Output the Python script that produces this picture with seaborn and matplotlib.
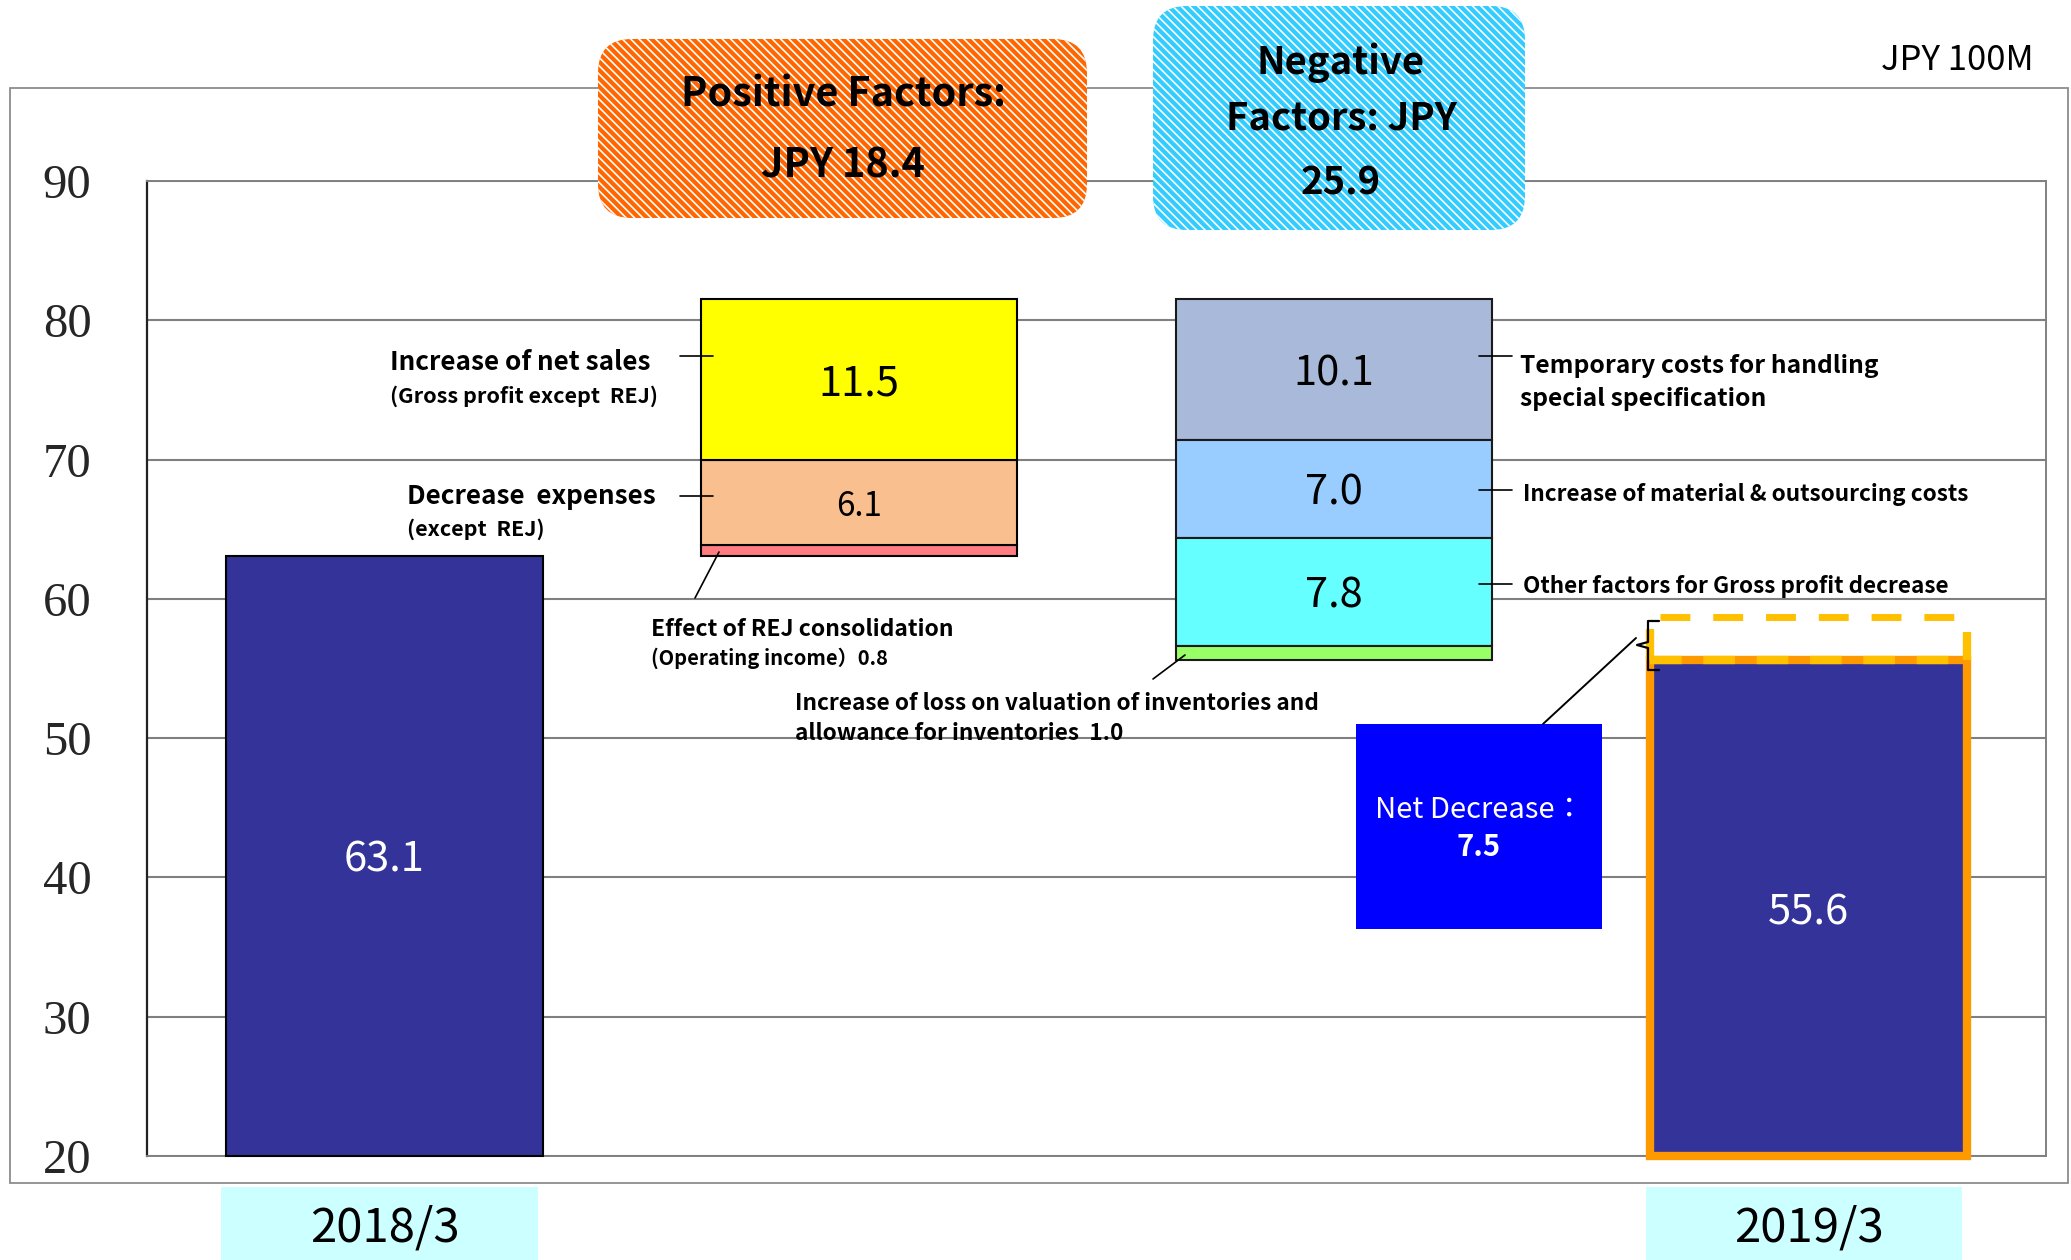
import numpy as np
import pandas as pd
import matplotlib
matplotlib.use("Agg")
import matplotlib.pyplot as plt
from matplotlib.patches import FancyBboxPatch, Rectangle
from matplotlib.lines import Line2D
from matplotlib.transforms import Affine2D
import seaborn as sns

# ---- gross profit bridge, JPY 100M ----
categories = ["2018/3", "Positive", "Negative", "2019/3"]
period_labels = ["2018/3", "", "", "2019/3"]
start_total = 63.1
end_total = 55.6
# REJ consolidation, decrease of expenses, increase of net sales
positive_values = [0.8, 6.1, 11.5]
# special specification, material & outsourcing, other factors, inventories
negative_values = [10.1, 7.0, 7.8, 1.0]
positive_total = 18.4
negative_total = 25.9
net_decrease = 7.5
y_ticks = [20, 30, 40, 50, 60, 70, 80, 90]

# ---- styling ----
NAVY = "#333399"
positive_colors = ["#FF7C80", "#F9BF8F", "#FFFF00"]
negative_colors = ["#A9B9D9", "#99CCFF", "#66FFFF", "#99FF66"]
positive_label_sizes = [None, 24, 30]
negative_label_sizes = [30, 30, 30, None]
SANS = ["Noto Sans CJK JP", "DejaVu Sans"]
SERIF = ["Liberation Serif", "DejaVu Serif"]
BAR_W = 0.667

sns.set_theme(style="white")
plt.rcParams["font.family"] = SANS
plt.rcParams["hatch.linewidth"] = 1.2

W, H = 2071, 1260
fig = plt.figure(figsize=(W / 100, H / 100), dpi=100, facecolor="white")
ax = fig.add_axes([147 / W, (H - 1156) / H, (2046 - 147) / W, (1156 - 181) / H])

# image-pixel transform (origin top-left) for the slide decorations
PX = Affine2D().scale(1, -1).translate(0, H).scale(1 / 100) + fig.dpi_scale_trans

# ---- build waterfall segments ----
floor = y_ticks[0]
rows = [dict(cat=categories[0], bottom=floor, top=start_total, color=NAVY,
             edge="black", lw=1.5, label=f"{start_total:.1f}", tcolor="white", tsize=30)]
level = start_total
for v, c, sz in zip(positive_values, positive_colors, positive_label_sizes):
    rows.append(dict(cat=categories[1], bottom=level, top=level + v, color=c,
                     edge="black", lw=1.5, label=None if sz is None else f"{v:.1f}",
                     tcolor="black", tsize=sz))
    level += v
for v, c, sz in zip(negative_values, negative_colors, negative_label_sizes):
    rows.append(dict(cat=categories[2], bottom=level - v, top=level, color=c,
                     edge="#1A1A1A", lw=1.5, label=None if sz is None else f"{v:.1f}",
                     tcolor="black", tsize=sz))
    level -= v
rows.append(dict(cat=categories[3], bottom=floor, top=end_total, color=NAVY,
                 edge="#FF9900", lw=6, label=f"{end_total:.1f}", tcolor="white", tsize=30))
segments = pd.DataFrame(rows)

for s in segments.itertuples():
    sns.barplot(x=[s.cat], y=[s.top - s.bottom], bottom=s.bottom, order=categories,
                color=s.color, saturation=1, edgecolor=s.edge, linewidth=s.lw,
                width=BAR_W, errorbar=None, ax=ax, zorder=3, clip_on=False)
    if isinstance(s.label, str):
        ax.text(categories.index(s.cat), (s.bottom + s.top) / 2, s.label,
                ha="center", va="center_baseline", color=s.tcolor, fontsize=s.tsize,
                zorder=6)

# ---- axes ----
ax.set_xlim(-0.5, len(categories) - 0.5)
ax.set_ylim(y_ticks[0], y_ticks[-1])
ax.set_xticks([])
ax.set_xlabel("")
ax.set_ylabel("")
ax.set_yticks(y_ticks)
ax.set_yticklabels([str(t) for t in y_ticks], family=SERIF, fontsize=35)
ax.tick_params(axis="y", length=0, pad=40)
ax.yaxis.grid(True, color="#7F7F7F", lw=1.5)
ax.xaxis.grid(False)
ax.set_axisbelow(True)
for name, sp in ax.spines.items():
    sp.set_visible(True)
    sp.set_color("#808080")
    sp.set_linewidth(1.4)
ax.spines["left"].set_color("#222222")
ax.spines["left"].set_linewidth(1.6)

# period labels under the end bars
xa = ax.get_xaxis_transform()
for i, lab in enumerate(period_labels):
    if not lab:
        continue
    ax.add_patch(Rectangle((i - BAR_W / 2 - 0.01, -0.1067), BAR_W, 0.075,
                           transform=xa, facecolor="#CCFFFF", edgecolor="none",
                           clip_on=False, zorder=1))
    ax.text(i, -0.0738, lab, transform=xa, ha="center", va="center",
            fontsize=34, color="black", clip_on=False)

# ghost outline of the previous level on the 2019/3 bar
x0, x1 = 3 - BAR_W / 2, 3 + BAR_W / 2
ghost_top = end_total + 3.1
ax.plot([x0, x1], [end_total, end_total], color="#FFC000", lw=6,
        dashes=(3.8, 2.6), clip_on=False, zorder=5)
ax.plot([x0 + 0.02, x1 - 0.01], [ghost_top, ghost_top], color="#FFC000", lw=5,
        dashes=(4.3, 3.3), clip_on=False, zorder=5)
for xe, ext in [(x0, 2.2), (x1, 2.0)]:
    ax.plot([xe, xe], [end_total, end_total + ext], color="#FFC000", lw=6,
            solid_capstyle="butt", clip_on=False, zorder=5)

# ---- slide decorations (pixel coordinates) ----
def ptext(x, y, s, **kw):
    kw.setdefault("va", "center")
    kw.setdefault("color", "black")
    return fig.text(x, y, s, transform=PX, **kw)


def pline(xs, ys, **kw):
    kw.setdefault("color", "black")
    kw.setdefault("lw", 1.2)
    fig.add_artist(Line2D(xs, ys, transform=PX, **kw))


# outer slide frame
fig.add_artist(Rectangle((10, 88), 2058, 1095, transform=PX, facecolor="none",
                         edgecolor="#8C8C8C", lw=1.3, zorder=0.5))

# summary boxes
fig.add_artist(FancyBboxPatch((598, 39), 489, 179, transform=PX,
                              boxstyle="round,pad=0,rounding_size=34",
                              facecolor="#FF6600", edgecolor="white", lw=0,
                              hatch="\\\\\\\\", zorder=2))
fig.add_artist(FancyBboxPatch((1153, 6), 372, 224, transform=PX,
                              boxstyle="round,pad=0,rounding_size=34",
                              facecolor="#33CCFF", edgecolor="white", lw=0,
                              hatch="\\\\\\\\", zorder=2))
ptext(843, 95, "Positive Factors:", ha="center", fontsize=28.5, weight="bold")
ptext(843, 166, f"JPY {positive_total:.1f}", ha="center", fontsize=28.5, weight="bold")
ptext(1341, 63, "Negative", ha="center", fontsize=27.5, weight="bold")
ptext(1341, 118, "Factors: JPY", ha="center", fontsize=27.5, weight="bold")
ptext(1341, 183, f"{negative_total:.1f}", ha="center", fontsize=27.5, weight="bold")
ptext(2034, 60, "JPY 100M", ha="right", fontsize=25)

# factor annotations, left side
ptext(390, 363, "Increase of net sales", fontsize=18.8, weight="bold")
ptext(390, 396, "(Gross profit except  REJ)", fontsize=15.5, weight="bold")
pline([680, 713], [356, 356])
ptext(407, 497, "Decrease  expenses", fontsize=18.8, weight="bold")
ptext(407, 529, "(except  REJ)", fontsize=15.5, weight="bold")
pline([680, 713], [496, 496])
ptext(651, 629, "Effect of REJ consolidation", fontsize=16.5, weight="bold")
ptext(651, 658, f"(Operating income）{positive_values[0]:.1f}", fontsize=14.5, weight="bold")
pline([719, 695], [552, 598])
ptext(795, 704, "Increase of loss on valuation of inventories and", fontsize=16.3, weight="bold")
ptext(795, 734, f"allowance for inventories  {negative_values[3]:.1f}", fontsize=16.3, weight="bold")
pline([1185, 1153], [655, 679])

# factor annotations, right side
pline([1479, 1512], [356, 356])
ptext(1520, 366, "Temporary costs for handling", fontsize=17.7, weight="bold")
ptext(1520, 399, "special specification", fontsize=17.7, weight="bold")
pline([1479, 1512], [490, 490])
ptext(1523, 494, "Increase of material & outsourcing costs", fontsize=16.2, weight="bold")
pline([1479, 1512], [584, 584])
ptext(1523, 587, "Other factors for Gross profit decrease", fontsize=16.2, weight="bold")

# net decrease callout
fig.add_artist(Rectangle((1356, 724), 246, 205, transform=PX, facecolor="#0000FF",
                         edgecolor="none", zorder=2))
ptext(1479, 810, "Net Decrease：", ha="center", fontsize=21, color="white")
ptext(1479, 847, f"{net_decrease:.1f}", ha="center", fontsize=21, color="white", weight="bold")
pline([1543, 1636], [724, 638], lw=1.4)
pline([1659, 1648, 1648, 1637, 1648, 1648, 1659],
      [621, 621, 642, 645, 648, 670, 670], lw=1.6)

fig.savefig("out.png", dpi=100, facecolor="white")
